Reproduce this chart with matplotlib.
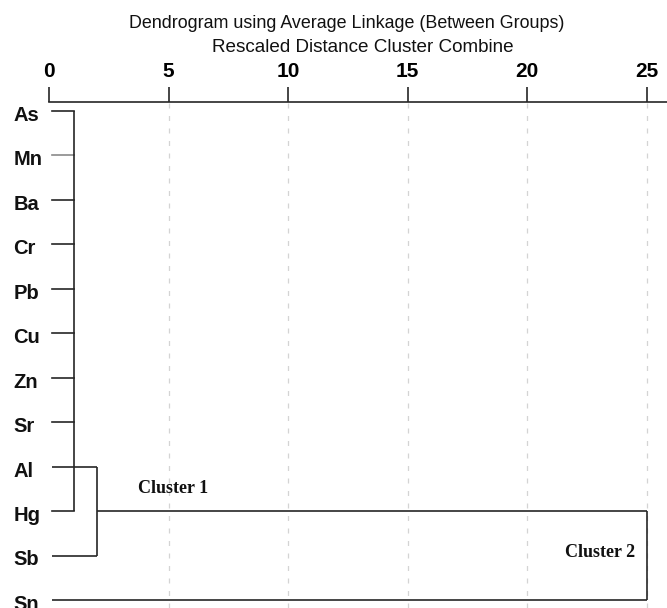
import matplotlib
matplotlib.use("Agg")
import matplotlib.pyplot as plt

# leaf order, top to bottom
elements = ["As", "Mn", "Ba", "Cr", "Pb", "Cu", "Zn", "Sr", "Al", "Hg", "Sb", "Sn"]

# rescaled distances at which clusters combine
first_group = ["As", "Mn", "Ba", "Cr", "Pb", "Cu", "Zn", "Sr", "Hg"]
first_merge = 1.05
second_group = ["Al", "Sb"]
second_merge = 2.0
final_merge = 25.0

ticks = [0, 5, 10, 15, 20, 25]

W, H, DPI = 667, 608, 100
fig = plt.figure(figsize=(W / DPI, H / DPI), dpi=DPI)
fig.patch.set_facecolor("white")

ax = fig.add_axes([49 / W, 0.0, 1 - 49 / W, (608 - 102) / H])
ax.set_xlim(0, 25.85)
ax.set_ylim(11.18, -0.2)

line_kw = dict(color="#262626", lw=1.2, solid_capstyle="butt")
leaf_start = 0.13
row = {name: i for i, name in enumerate(elements)}

# first cluster
for name in first_group:
    c = "#8a8a8a" if name == "Mn" else "#262626"
    ax.plot([leaf_start, first_merge], [row[name]] * 2, color=c, lw=1.2)
ys = [row[n] for n in first_group]
ax.plot([first_merge] * 2, [min(ys), max(ys)], **line_kw)

# Al and Sb join the first cluster
for name in second_group:
    ax.plot([leaf_start, second_merge], [row[name]] * 2, **line_kw)
ax.plot([second_merge] * 2, [row["Al"], row["Sb"]], **line_kw)

# final join with Sn
ax.plot([second_merge, final_merge], [row["Hg"]] * 2, **line_kw)
ax.plot([leaf_start, final_merge], [row["Sn"]] * 2, **line_kw)
ax.plot([final_merge] * 2, [row["Hg"], row["Sn"]], **line_kw)

# dashed guides
for t in ticks[1:]:
    ax.axvline(t, color="#d4d4d4", lw=0.9, ls=(0, (4, 6)), zorder=0)

# leaf labels
for name in elements:
    ax.text(-1.5, row[name] + 0.1, name, ha="left", va="center",
            fontsize=14.5, fontweight="bold", family="Liberation Sans",
            color="#111111", clip_on=False)

ax.text(3.72, 8.5, "Cluster 1", ha="left", va="center", fontsize=13,
        fontweight="bold", family="Liberation Serif", color="#111111")
ax.text(21.57, 9.94, "Cluster 2", ha="left", va="center", fontsize=13,
        fontweight="bold", family="Liberation Serif", color="#111111")

# distance scale on top
for s in ["bottom", "left", "right"]:
    ax.spines[s].set_visible(False)
ax.spines["top"].set_color("#262626")
ax.spines["top"].set_linewidth(1.2)
ax.set_yticks([])
ax.xaxis.tick_top()
ax.set_xticks(ticks)
ax.set_xticklabels([str(t) for t in ticks], fontsize=15, fontweight="bold",
                   family="Liberation Sans")
ax.tick_params(axis="x", direction="out", length=11, width=1.2,
               color="#262626", pad=4)

fig.text(347 / W, 1 - 23 / H, "Dendrogram using Average Linkage (Between Groups)",
         ha="center", va="center", fontsize=12.9, family="Liberation Sans",
         color="#111111")
fig.text(363 / W, 1 - 47 / H, "Rescaled Distance Cluster Combine",
         ha="center", va="center", fontsize=13.6, family="Liberation Sans",
         color="#111111")

fig.savefig("out.png", dpi=DPI, facecolor="white")
